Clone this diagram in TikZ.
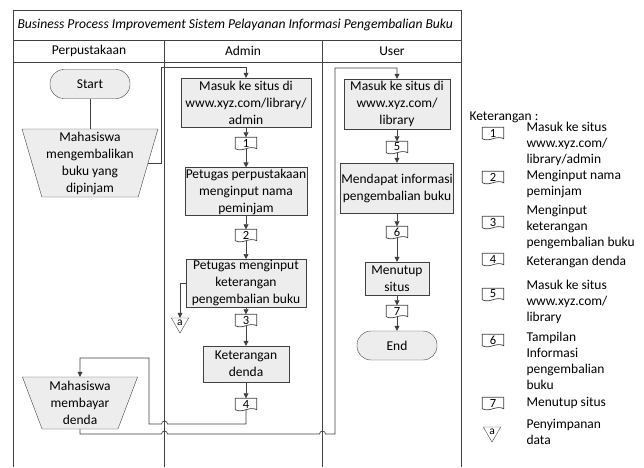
\documentclass[tikz,border=0pt]{standalone}
\usepackage{fontspec}
\setmainfont{Carlito}
\usetikzlibrary{calc,shapes.geometric,arrows.meta}

\colorlet{linegray}{black!75}
\colorlet{boxgray}{black!7}

% document symbol with wavy bottom
\newcommand{\docsym}[3]{%
  \node[docmark] (#1) at (#2) {#3};
  \draw[garis] (#1.south west) -- (#1.north west) -- (#1.north east) -- (#1.south east)
    .. controls +(-7pt,4pt) and +(7pt,-4pt) .. (#1.south west);
}

\begin{document}
\begin{tikzpicture} [x=1pt,y=1pt,
  font=\fontsize{13.5}{17}\selectfont,
  proses/.style=
  {rectangle, draw=linegray, fill=boxgray, align=center, inner sep=1pt},
  terminal/.style=
  {rectangle, rounded corners=14pt, draw=linegray, fill=boxgray,
    minimum width=80pt, minimum height=29pt},
  manual/.style=
  {trapezium, shape border rotate=180, trapezium stretches=true,
    draw=linegray, fill=boxgray, align=center, inner sep=0pt},
  docmark/.style=
  {rectangle, minimum width=21pt, minimum height=11pt, inner sep=0pt,
    font=\fontsize{12.5}{12.5}\selectfont},
  simpan/.style=
  {regular polygon, regular polygon sides=3, shape border rotate=180,
    draw=linegray, inner sep=0pt, minimum size=20pt, font=\fontsize{11.5}{11.5}\selectfont},
  garis/.style={draw=linegray, line width=0.7pt},
  alur/.style={garis, -{Triangle[length=5pt,width=5pt]}},
  ket/.style={anchor=west, align=left, font=\fontsize{13.5}{16}\selectfont}]
\useasboundingbox (0,0) rectangle (644,-467);

% frame and lanes
\draw[garis] (13,-467) -- (13,-10) -- (461,-10) -- (461,-467);
\draw[garis] (13,-40) -- (461,-40);
\draw[garis] (13,-62) -- (461,-62);
\draw[garis] (164.5,-40) -- (164.5,-467);
\draw[garis] (322.5,-40) -- (322.5,-467);
\node[anchor=west, font=\fontsize{13.6}{15}\selectfont\itshape] (judul) at (14,-25)
  {Business Process Improvement Sistem Pelayanan Informasi Pengembalian Buku};
\node (lanePerpus) at (89,-51) {Perpustakaan};
\node (laneAdmin) at (243,-51) {Admin};
\node (laneUser) at (392,-51) {User};

% Perpustakaan
\node [terminal] (start) at (90,-84) {Start};
\node [manual, trapezium left angle=74, trapezium right angle=74,
  minimum width=136pt, minimum height=68pt] (mhs1) at (90,-163)
  {Mahasiswa\\mengembalikan\\buku yang\\dipinjam};
\node [manual, trapezium left angle=70, trapezium right angle=70,
  minimum width=116pt, minimum height=52pt] (mhs2) at (80,-403)
  {Mahasiswa\\membayar\\denda};

% Admin
\node [proses, minimum width=130pt, minimum height=49pt] (adm1) at (246,-102.5)
  {Masuk ke situs di\\www.xyz.com/library/\\admin};
\docsym{doc1}{246,-143}{1}
\node [proses, minimum width=122pt, minimum height=46pt] (adm2) at (246,-191.5)
  {Petugas perpustakaan\\menginput nama\\peminjam};
\docsym{doc2}{246,-235}{2}
\node [proses, minimum width=120pt, minimum height=42pt] (adm3) at (246,-283)
  {Petugas menginput\\keterangan\\pengembalian buku};
\node [simpan] (simpanA) at (180,-323) {a};
\docsym{doc3}{246,-320}{3}
\node [proses, minimum width=86pt, minimum height=36pt] (adm4) at (246,-364)
  {Keterangan\\denda};
\docsym{doc4}{246,-404}{4}

% User
\node [proses, minimum width=106pt, minimum height=50pt] (usr1) at (397,-104)
  {Masuk ke situs di\\www.xyz.com/\\library};
\docsym{doc5}{397,-147}{5}
\node [proses, minimum width=112pt, minimum height=50pt] (usr2) at (397,-188)
  {Mendapat informasi\\pengembalian buku};
\docsym{doc6}{397,-232}{6}
\node [proses, minimum width=64pt, minimum height=33pt] (usr3) at (397,-278.5)
  {Menutup\\situs};
\docsym{doc7}{397,-311}{7}
\node [terminal] (end) at (397,-345.5) {End};

% flows
\draw[garis] (start) -- (mhs1);
\draw[alur] (mhs1.east) -| (161.5,-67) -| (adm1.north);
\draw[alur] (adm1) -- (doc1);
\draw[alur] (doc1.south) -- (adm2);
\draw[alur] (adm2) -- (doc2);
\draw[alur] (doc2.south) -- (adm3);
\draw[alur] (adm3) -- (doc3);
\draw[alur] (adm3.west) -| (simpanA.north);
\draw[alur] (doc3.south) -- (adm4);
\draw[alur] (adm4) -- (doc4);
\draw[alur] (doc4.south) -- (246,-424) -- (167.5,-424)
  arc[start angle=0, end angle=180, radius=3pt] -- (149,-424) -- (149,-358) -| (mhs2.north);
\draw[alur] (mhs2.south) -- (80,-434) -- (161.5,-434)
  arc[start angle=180, end angle=0, radius=3pt] -- (319.5,-434)
  arc[start angle=180, end angle=0, radius=3pt] -- (335,-434) -- (335,-68) -| (usr1.north);
\draw[alur] (usr1) -- (doc5);
\draw[alur] (doc5.south) -- (usr2);
\draw[alur] (usr2) -- (doc6);
\draw[alur] (doc6.south) -- (usr3);
\draw[alur] (usr3) -- (doc7);
\draw[alur] (doc7.south) -- (end);

% keterangan
\node[ket] (ketJudul) at (466,-117) {Keterangan :};
\docsym{ket1}{493,-133}{1}
\node[ket] (ketA) at (523,-144) {Masuk ke situs\\www.xyz.com/\\library/admin};
\docsym{ket2}{493,-177}{2}
\node[ket] (ketB) at (523,-184.5) {Menginput nama\\peminjam};
\docsym{ket3}{493,-222}{3}
\node[ket] (ketC) at (523,-227.5) {Menginput\\keterangan\\pengembalian buku};
\docsym{ket4}{493,-259}{4}
\node[ket] (ketD) at (523,-262) {Keterangan denda};
\docsym{ket5}{493,-294}{5}
\node[ket] (ketE) at (523,-302) {Masuk ke situs\\www.xyz.com/\\library};
\docsym{ket6}{493,-340}{6}
\node[ket] (ketF) at (523,-361) {Tampilan\\Informasi\\pengembalian\\buku};
\docsym{ket7}{493,-403}{7}
\node[ket] (ketG) at (523,-403) {Menutup situs};
\node [simpan] (ketSimpan) at (492,-432) {a};
\node[ket] (ketH) at (523,-431.5) {Penyimpanan\\data};

\end{tikzpicture}
\end{document}
